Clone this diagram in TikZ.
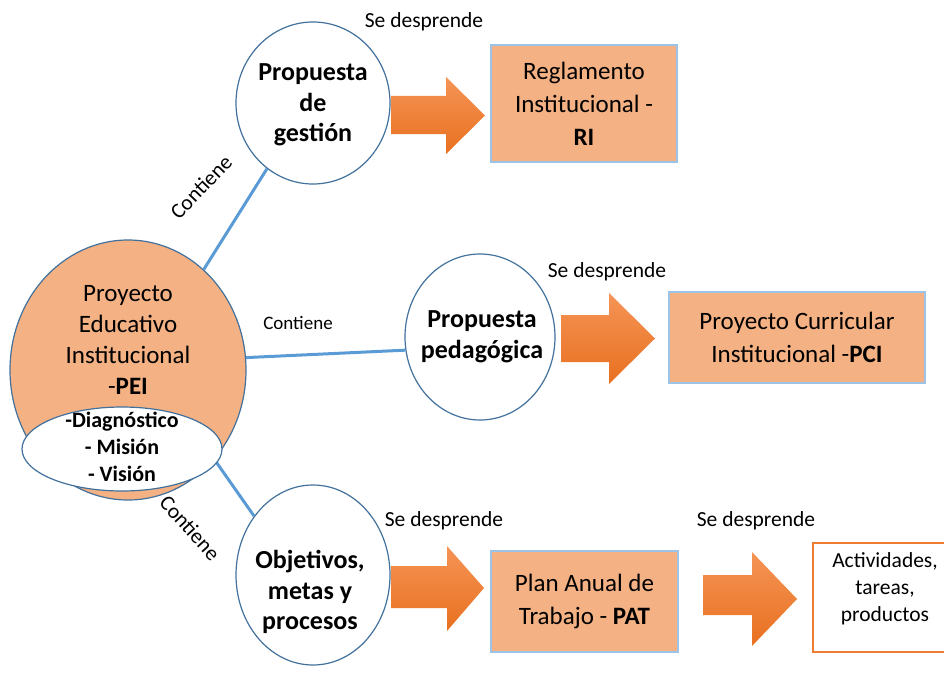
\documentclass[tikz,border=0pt]{standalone}
\usepackage{fontspec}
\setmainfont{Carlito}
\usetikzlibrary{shapes.geometric}
\definecolor{boxfill}{RGB}{244,177,131}
\definecolor{ellborder}{RGB}{65,113,156}
\definecolor{linkblue}{RGB}{91,155,213}
\definecolor{boxborder}{RGB}{157,195,230}
\definecolor{arrtop}{RGB}{245,148,86}
\definecolor{arrbot}{RGB}{232,112,31}
\definecolor{actborder}{RGB}{237,125,49}
\tikzset{
  ell/.style={ellipse, draw=ellborder, line width=1.2pt, fill=white, inner sep=0pt},
  bigtext/.style={font=\fontsize{25}{31}\selectfont, align=center, inner sep=0pt},
  ellbold/.style={font=\fontsize{26}{30.5}\selectfont\bfseries, align=center, inner sep=0pt},
  orbox/.style={rectangle, draw=boxborder, line width=1.5pt, fill=boxfill, inner sep=0pt, font=\fontsize{25}{33}\selectfont, align=center},
  link/.style={draw=linkblue, line width=3pt},
  smalllbl/.style={font=\fontsize{21.5}{26}\selectfont, inner sep=0pt},
  contlbl/.style={font=\fontsize{19}{23}\selectfont, inner sep=0pt},
  controt/.style={font=\fontsize{21.5}{26}\selectfont, inner sep=0pt},
  blockarr/.style={top color=arrtop, bottom color=arrbot, draw=none}
}
\begin{document}
\begin{tikzpicture}[x=1pt,y=-1pt]
\useasboundingbox (0,0) rectangle (944,682);
% ellipses
\node[ell, fill=boxfill, minimum width=236pt, minimum height=260pt] (pei) at (128,370) {};
\node[ell, minimum width=154pt, minimum height=162pt] (gestion) at (313,103) {};
\node[ell, minimum width=150pt, minimum height=166pt] (pedag) at (480,337) {};
\node[ell, minimum width=154pt, minimum height=180pt] (objet) at (313,575) {};
% links
\draw[link] (pei.53.8) -- (gestion.235.2);
\draw[link] (pei.6.8) -- (pedag.190.6);
\draw[link] (pei.-46.9) -- (objet.135);
% inner ellipse
\node[ell, minimum width=200pt, minimum height=84pt] (diag) at (122,449) {};
\node[font=\fontsize{22}{27}\selectfont\bfseries, align=center, inner sep=0pt] (diagT) at (122,447) {-Diagnóstico\\- Misión\\- Visión};
% ellipse texts
\node[bigtext] (peiT) at (128,340) {Proyecto\\Educativo\\Institucional\\-\textbf{PEI}};
\node[ellbold] (gestionT) at (313,105) {Propuesta\\de\\gestión};
\node[ellbold] (pedagT) at (482,337) {Propuesta\\pedagógica};
\node[ellbold] (objetT) at (310,592) {Objetivos,\\metas y\\procesos};
% boxes
\node[orbox, minimum width=186pt, minimum height=117pt] (ri) at (584,103.5) {Reglamento\\Institucional -\\\textbf{RI}};
\node[orbox, minimum width=256pt, minimum height=91pt] (pci) at (797,337.5) {Proyecto Curricular\\Institucional -\textbf{PCI}};
\node[orbox, minimum width=187pt, minimum height=101pt] (pat) at (584.5,601.5) {Plan Anual de\\Trabajo - \textbf{PAT}};
\node[rectangle, draw=actborder, line width=1.5pt, fill=white, minimum width=145pt, minimum height=109pt, inner sep=0pt] (act) at (885.5,597.5) {};
\node[font=\fontsize{21.5}{27}\selectfont, align=center, inner sep=0pt] (actT) at (885,589) {Actividades,\\tareas,\\productos};
% block arrows
\shade[blockarr] (391,96) -- (446,96) -- (446,77) -- (485,115.5) -- (446,154) -- (446,134) -- (391,134) -- cycle;
\shade[blockarr] (561,315) -- (609,315) -- (609,293) -- (655,338.5) -- (609,384) -- (609,362) -- (561,362) -- cycle;
\shade[blockarr] (391,566) -- (447,566) -- (447,546) -- (484,588) -- (447,631) -- (447,608) -- (391,608) -- cycle;
\shade[blockarr] (703,575) -- (752,575) -- (752,552) -- (797,599) -- (752,646) -- (752,615) -- (703,615) -- cycle;
% labels
\node[smalllbl] (sd1) at (424,22) {Se desprende};
\node[smalllbl] (sd2) at (607,272) {Se desprende};
\node[smalllbl] (sd3) at (444,521) {Se desprende};
\node[smalllbl] (sd4) at (756,521) {Se desprende};
\node[controt, rotate=46] (c1) at (201,187) {Contiene};
\node[contlbl] (c2) at (298,323) {Contiene};
\node[controt, rotate=-48] (c3) at (190,528) {Contiene};
\end{tikzpicture}
\end{document}
